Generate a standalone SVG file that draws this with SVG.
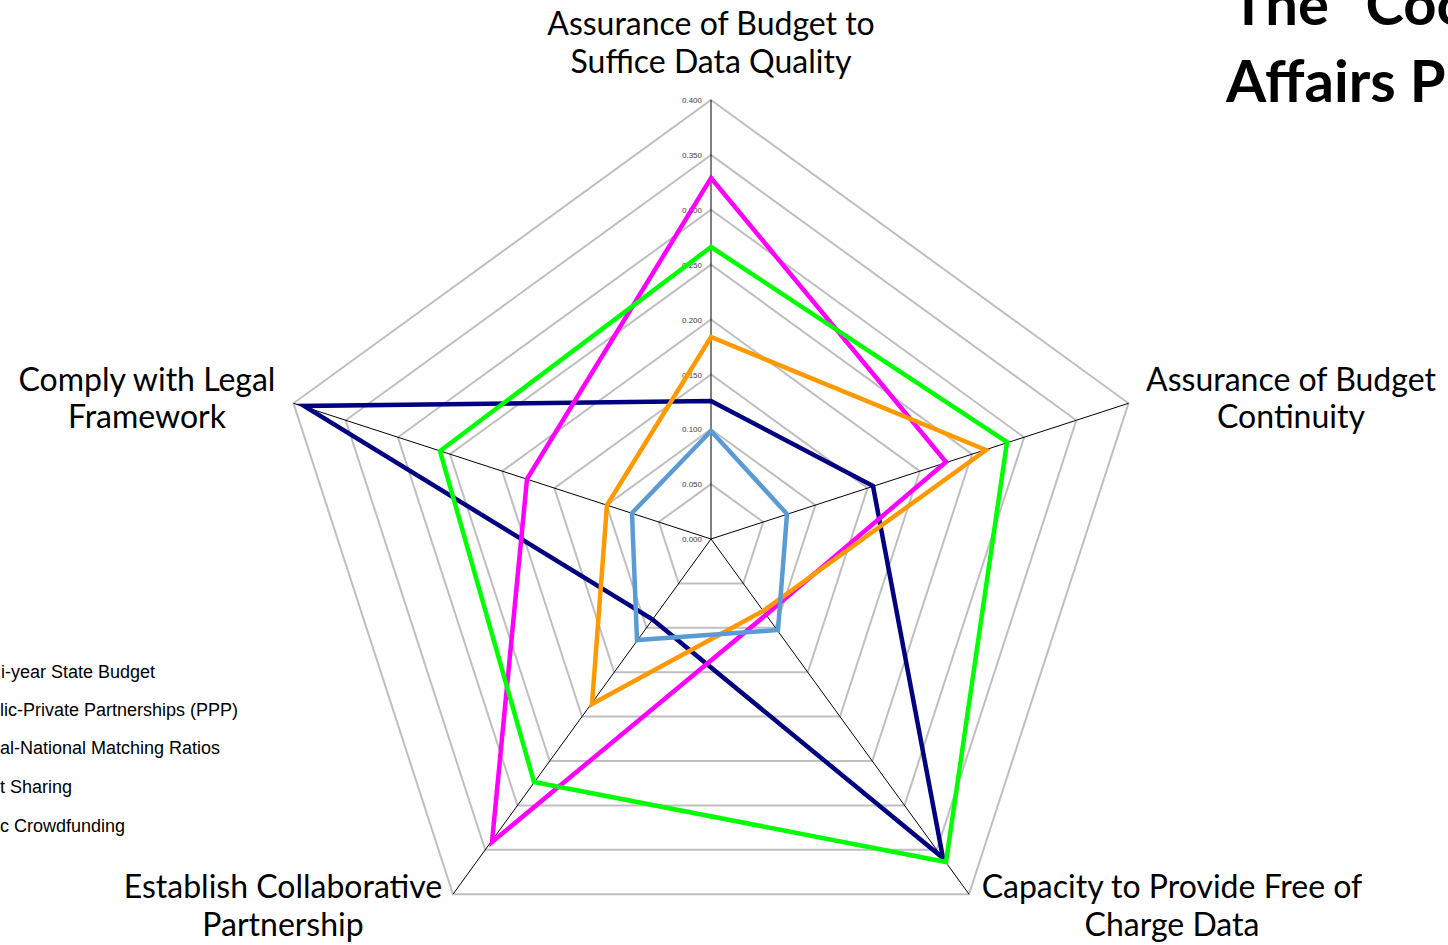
<svg xmlns="http://www.w3.org/2000/svg" width="1448" height="945" viewBox="0 0 1448 945">
<style>
.ring{fill:none;stroke:#BFBFBF;stroke-width:2}
.axis{stroke:#000;stroke-width:1}
.tick{font-family:"Liberation Sans",Arial,sans-serif;font-size:8px;fill:#404040;text-anchor:end}
.lbl{font-family:Lato,"Open Sans",sans-serif;font-size:32px;fill:#000;text-anchor:middle}
.title{font-family:Lato,"Open Sans",sans-serif;font-size:58px;font-weight:bold;fill:#000}
.leg{font-family:"Liberation Sans",Arial,sans-serif;font-size:18px;fill:#000}
.s{fill:none;stroke-width:4.5;stroke-linejoin:miter}
</style>
<rect width="1448" height="945" fill="#fff"/>
<g id="grid">
<polygon class="ring" points="711,484.1 763.2,522 743.3,583.4 678.7,583.4 658.8,522"/>
<polygon class="ring" points="711,429.25 815.4,505.1 775.5,627.8 646.5,627.8 606.6,505.1"/>
<polygon class="ring" points="711,374.4 867.6,488.1 807.8,672.2 614.2,672.2 554.4,488.1"/>
<polygon class="ring" points="711,319.5 919.8,471.2 840,716.6 582,716.6 502.2,471.2"/>
<polygon class="ring" points="711,264.6 972,454.2 872.3,761 549.7,761 450,454.2"/>
<polygon class="ring" points="711,209.75 1024.1,437.3 904.5,805.4 517.5,805.4 397.9,437.3"/>
<polygon class="ring" points="711,154.9 1076.3,420.3 936.8,849.8 485.2,849.8 345.7,420.3"/>
<polygon class="ring" points="711,100 1128.5,403.3 969,894.2 453,894.2 293.5,403.3"/>
</g>
<g id="axes">
<line class="axis" x1="711" y1="539" x2="711" y2="100"/>
<line class="axis" x1="711" y1="539" x2="1128.5" y2="403.3"/>
<line class="axis" x1="711" y1="539" x2="969" y2="894.2"/>
<line class="axis" x1="711" y1="539" x2="453" y2="894.2"/>
<line class="axis" x1="711" y1="539" x2="293.5" y2="403.3"/>
</g>
<g id="ticks">
<text class="tick" x="702" y="103">0.400</text>
<text class="tick" x="702" y="158">0.350</text>
<text class="tick" x="702" y="213">0.300</text>
<text class="tick" x="702" y="268">0.250</text>
<text class="tick" x="702" y="323">0.200</text>
<text class="tick" x="702" y="378">0.150</text>
<text class="tick" x="702" y="432">0.100</text>
<text class="tick" x="702" y="487">0.050</text>
<text class="tick" x="702" y="542">0.000</text>
</g>
<g id="series">
<polygon id="s-navy" class="s" stroke="#000080" points="711,401 873,486 943,858 652,619 304,406"/>
<polygon id="s-magenta" class="s" stroke="#FF00FF" points="711,178 946,462 767,614 492,842 527,479"/>
<polygon id="s-green" class="s" stroke="#00FF00" points="711,247 1007,442 946,862 534,782 440,451"/>
<polygon id="s-orange" class="s" stroke="#FF9900" points="711,337 986,450 763,611 592,704 607,505"/>
<polygon id="s-blue" class="s" stroke="#5B9BD5" points="711,431 787,514 778,630 637,640 632,513"/>
</g>
<g id="labels">
<text class="lbl" x="711" y="35">Assurance of Budget to<tspan x="711" dy="38">Suffice Data Quality</tspan></text>
<text class="lbl" x="1291" y="391">Assurance of Budget<tspan x="1291" dy="37">Continuity</tspan></text>
<text class="lbl" x="1172" y="898">Capacity to Provide Free of<tspan x="1172" dy="38">Charge Data</tspan></text>
<text class="lbl" x="283" y="898">Establish Collaborative<tspan x="283" dy="38">Partnership</tspan></text>
<text class="lbl" x="147" y="391">Comply with Legal<tspan x="147" dy="37">Framework</tspan></text>
</g>
<g id="title">
<text class="title" x="1231" y="25">The “Coo</text>
<text class="title" x="1226" y="102">Affairs P</text>
</g>
<g id="legend">
<text class="leg" x="1" y="678">i-year State Budget</text>
<text class="leg" x="0" y="716">lic-Private Partnerships (PPP)</text>
<text class="leg" x="0" y="754">al-National Matching Ratios</text>
<text class="leg" x="0" y="793">t Sharing</text>
<text class="leg" x="0" y="832">c Crowdfunding</text>
</g>
</svg>
